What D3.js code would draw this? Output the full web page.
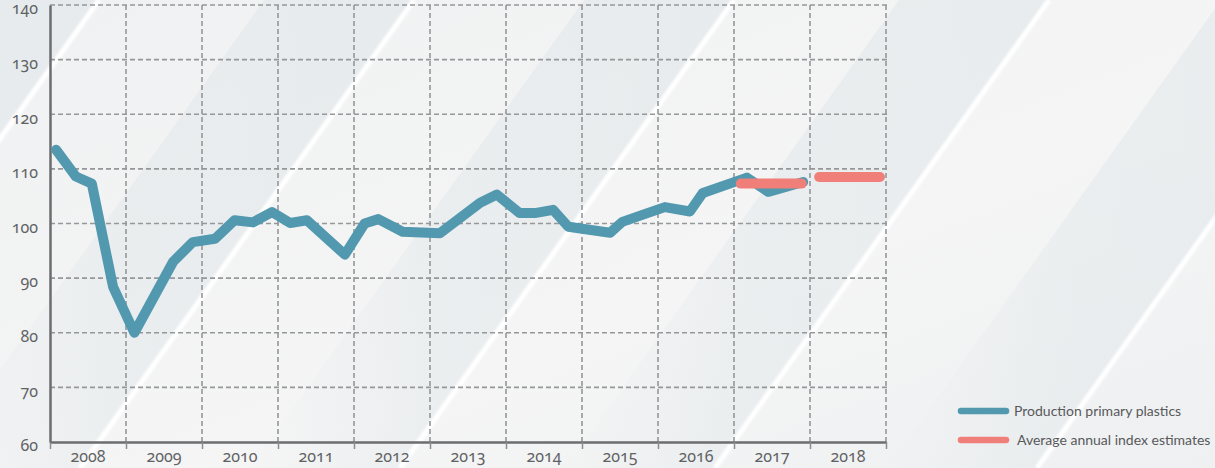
<!DOCTYPE html>
<html>
<head>
<meta charset="utf-8">
<title>Production primary plastics</title>
<script src="https://d3js.org/d3.v7.min.js"></script>
<style>
    body { margin: 0; background: #f2f3f3; }
    svg { display: block; }
    .tick-label { font-family: "Noto Sans", sans-serif; font-variant-numeric: oldstyle-nums; font-feature-settings: "onum"; }
</style>
</head>
<body>
<div id="chart"></div>
<script>
    // data (decimal year, index value)
    var prodYears = [2008.08, 2008.34, 2008.55, 2008.83, 2009.11, 2009.62, 2009.88, 2010.17, 2010.43, 2010.67,
        2010.92, 2011.16, 2011.38, 2011.88, 2012.14, 2012.32, 2012.64, 2013.13, 2013.66, 2013.88,
        2014.18, 2014.38, 2014.62, 2014.82, 2015.37, 2015.53, 2015.86, 2016.09, 2016.42, 2016.59,
        2017.17, 2017.45, 2017.91];
    var prodValues = [113.5, 108.6, 107.3, 88.4, 80.0, 93.0, 96.6, 97.2, 100.6, 100.2,
        102.1, 100.1, 100.6, 94.3, 100.0, 100.8, 98.5, 98.2, 103.8, 105.3,
        101.9, 101.9, 102.5, 99.4, 98.3, 100.3, 101.9, 103.0, 102.2, 105.6,
        108.4, 105.8, 107.6];

    var estStart = [2017.09, 2018.12];
    var estEnd = [2017.89, 2018.92];
    var estValues = [107.3, 108.5];

    var years = [2008, 2009, 2010, 2011, 2012, 2013, 2014, 2015, 2016, 2017, 2018];
    var yTicks = [60, 70, 80, 90, 100, 110, 120, 130, 140];
    var legendLabels = ["Production primary plastics", "Average annual index estimates"];

    var W = 1215, H = 468;
    var blue = "#5299b0", red = "#f07f7a";

    var svg = d3.select("#chart").append("svg")
        .attr("width", W)
        .attr("height", H);

    // background: soft diagonal bands with thin white streaks
    var defs = svg.append("defs");
    var bg = defs.append("linearGradient").attr("id", "bg")
        .attr("x1", "0").attr("y1", "0").attr("x2", "1").attr("y2", "1");
    bg.append("stop").attr("offset", "0").attr("stop-color", "#f0f1f2");
    bg.append("stop").attr("offset", "0.6").attr("stop-color", "#f5f5f5");
    bg.append("stop").attr("offset", "1").attr("stop-color", "#eef0f1");
    var band = defs.append("linearGradient").attr("id", "band")
        .attr("x1", "0").attr("y1", "0").attr("x2", "1").attr("y2", "0");
    band.append("stop").attr("offset", "0").attr("stop-color", "#dfe6e9").attr("stop-opacity", 0);
    band.append("stop").attr("offset", "0.4").attr("stop-color", "#dfe6e9").attr("stop-opacity", 0.45);
    band.append("stop").attr("offset", "1").attr("stop-color", "#dfe6e9").attr("stop-opacity", 0.6);
    var blur = defs.append("filter").attr("id", "soft");
    blur.append("feGaussianBlur").attr("stdDeviation", 1.2);

    svg.append("rect").attr("width", W).attr("height", H).attr("fill", "url(#bg)");

    var slant = 334;
    var streaks = [-235, 80, 400, 715, 1037];
    var bgG = svg.append("g");
    streaks.forEach(function (b) {
        bgG.append("polygon")
            .attr("points", [[b - 150, H], [b, H], [b + slant, 0], [b + slant - 150, 0]].join(" "))
            .attr("fill", "url(#band)");
    });
    streaks.forEach(function (b) {
        bgG.append("line")
            .attr("x1", b).attr("y1", H).attr("x2", b + slant).attr("y2", 0)
            .attr("stroke", "#ffffff").attr("stroke-width", 5)
            .attr("filter", "url(#soft)");
    });

    // scales
    var x = d3.scaleLinear().domain([2008, 2019]).range([50, 886]);
    var y = d3.scaleLinear().domain([60, 140]).range([442, 5]);

    // grid
    svg.append("g")
        .selectAll("line")
        .data(yTicks.slice(1))
        .enter()
        .append("line")
        .attr("x1", x(2008)).attr("x2", x(2019) + 3)
        .attr("y1", function (d) { return y(d); })
        .attr("y2", function (d) { return y(d); })
        .attr("stroke", "#959799").attr("stroke-width", 1.6)
        .attr("stroke-dasharray", "5,3");

    svg.append("g")
        .selectAll("line")
        .data(years.slice(1).concat([2019]))
        .enter()
        .append("line")
        .attr("x1", function (d) { return x(d); })
        .attr("x2", function (d) { return x(d); })
        .attr("y1", y(140)).attr("y2", y(60))
        .attr("stroke", "#959799").attr("stroke-width", 1.6)
        .attr("stroke-dasharray", "5,3");

    // x axis: ticks on the year boundaries, labels in the middle of each year
    var xAxis = svg.append("g")
        .attr("transform", "translate(0," + y(60) + ")")
        .call(d3.axisBottom(x).tickValues(years.concat([2019])).tickFormat("").tickSize(7).tickSizeOuter(0));
    xAxis.select(".domain").attr("stroke", "#6b6d6f").attr("stroke-width", 2.5);
    xAxis.selectAll(".tick line").attr("stroke", "#8a8c8e").attr("stroke-width", 1.5);

    svg.append("g")
        .selectAll("text")
        .data(years)
        .enter()
        .append("text")
        .attr("class", "tick-label")
        .attr("x", function (d) { return x(d + 0.5); })
        .attr("y", 462)
        .attr("text-anchor", "middle")
        .style("font-size", "16px")
        .style("fill", "#606264")
        .text(function (d) { return d; });

    // y axis
    var yAxis = svg.append("g")
        .attr("transform", "translate(" + x(2008) + ",0)")
        .call(d3.axisLeft(y).tickValues(yTicks).tickSize(0).tickPadding(12));
    yAxis.select(".domain").attr("stroke", "#6b6d6f").attr("stroke-width", 2.5);
    yAxis.selectAll("text")
        .attr("class", "tick-label")
        .attr("dy", "0.55em")
        .style("font-size", "16px")
        .style("fill", "#606264");

    // production line
    var prod = prodYears.map(function (d, i) { return { year: d, value: prodValues[i] }; });
    var line = d3.line()
        .x(function (d) { return x(d.year); })
        .y(function (d) { return y(d.value); });

    svg.append("path")
        .datum(prod)
        .attr("d", line)
        .attr("fill", "none")
        .attr("stroke", blue)
        .attr("stroke-width", 10)
        .attr("stroke-linejoin", "round")
        .attr("stroke-linecap", "round");

    // average annual estimates
    svg.append("g")
        .selectAll("line")
        .data(estValues)
        .enter()
        .append("line")
        .attr("x1", function (d, i) { return x(estStart[i]); })
        .attr("x2", function (d, i) { return x(estEnd[i]); })
        .attr("y1", function (d) { return y(d); })
        .attr("y2", function (d) { return y(d); })
        .attr("stroke", red)
        .attr("stroke-width", 10)
        .attr("stroke-linecap", "round");

    // legend
    var legend = svg.append("g")
        .selectAll("g")
        .data(legendLabels)
        .enter()
        .append("g")
        .attr("transform", function (d, i) { return "translate(961," + (411 + i * 29) + ")"; });
    legend.append("line")
        .attr("x1", 0).attr("x2", 45)
        .attr("stroke", function (d, i) { return i == 0 ? blue : red; })
        .attr("stroke-width", 6.5)
        .attr("stroke-linecap", "round");
    legend.append("text")
        .attr("x", function (d, i) { return i == 0 ? 53 : 56; })
        .attr("dy", "0.35em")
        .style("font-family", "Lato, sans-serif")
        .style("font-size", "14px")
        .style("fill", "#58595b")
        .text(function (d) { return d; });
</script>
</body>
</html>
